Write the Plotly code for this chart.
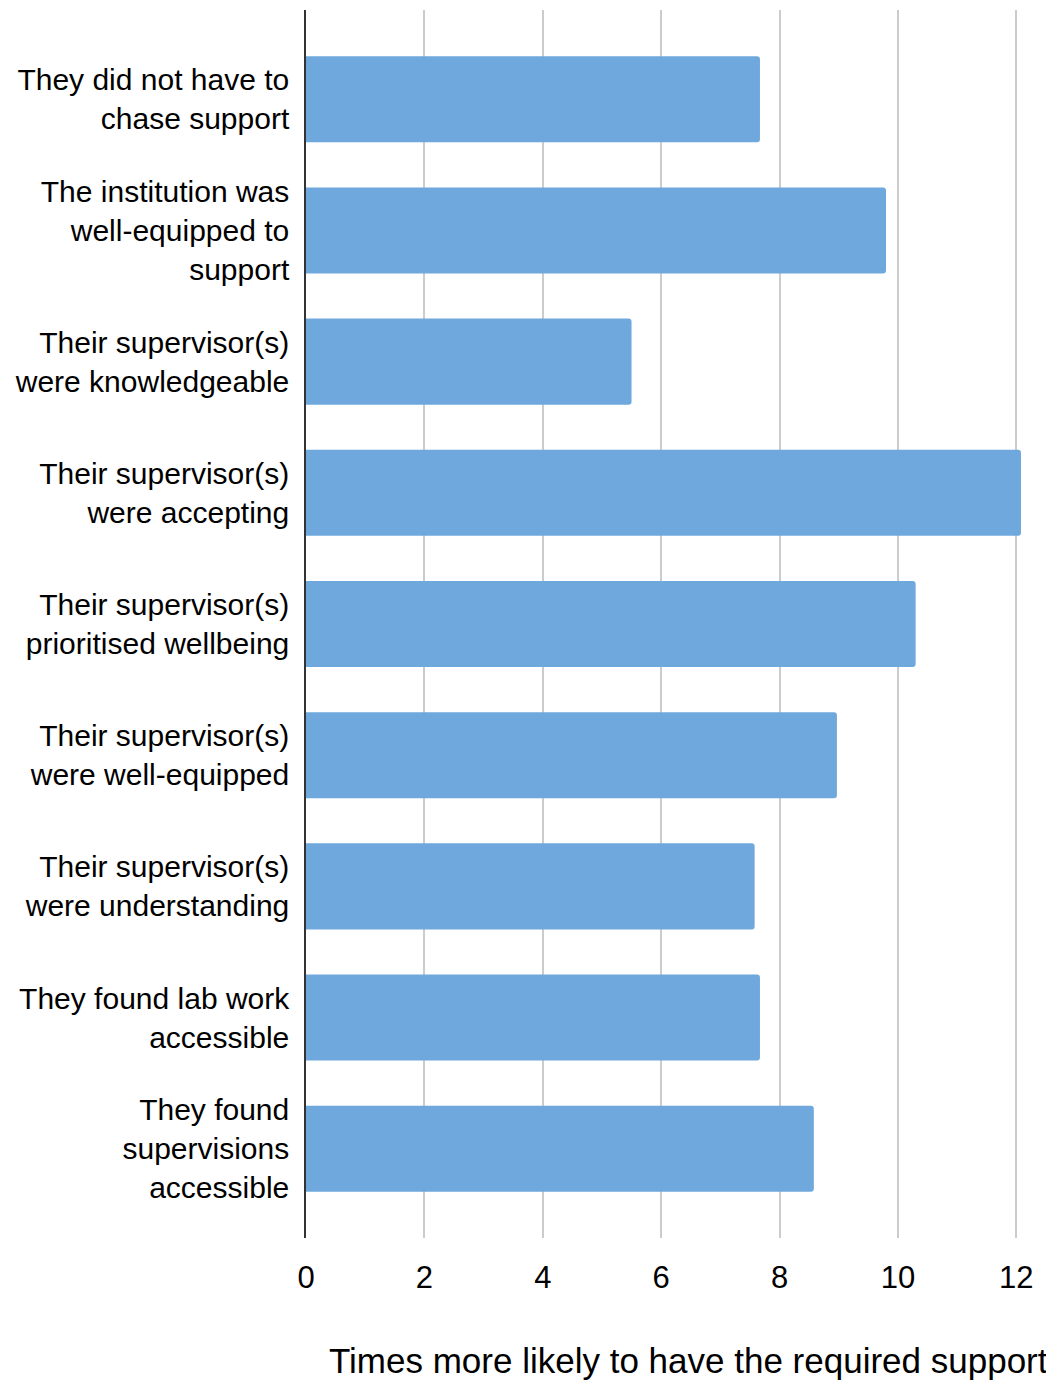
import plotly.graph_objects as go

categories = [
    "They did not have to<br>chase support",
    "The institution was<br>well-equipped to<br>support",
    "Their supervisor(s)<br>were knowledgeable",
    "Their supervisor(s)<br>were accepting",
    "Their supervisor(s)<br>prioritised wellbeing",
    "Their supervisor(s)<br>were well-equipped",
    "Their supervisor(s)<br>were understanding",
    "They found lab work<br>accessible",
    "They found<br>supervisions<br>accessible",
]
values = [7.67, 9.8, 5.5, 12.08, 10.3, 8.97, 7.58, 7.67, 8.58]
x_ticks = [0, 2, 4, 6, 8, 10, 12]
x_title = "Times more likely to have the required support"

FONT = "Liberation Sans, Arial, sans-serif"

fig = go.Figure(
    go.Bar(
        x=values,
        y=categories,
        orientation="h",
        marker=dict(color="#6fa8dc", line=dict(width=0), cornerradius=3),
        width=0.656,
        hoverinfo="x+y",
    )
)

fig.update_layout(
    width=1046,
    height=1372,
    margin=dict(l=298, r=20, t=2, b=142),
    plot_bgcolor="white",
    paper_bgcolor="white",
    showlegend=False,
    font=dict(family=FONT, color="black"),
)

fig.update_xaxes(
    range=[0, 12.3],
    tickvals=x_ticks,
    ticktext=[str(t) for t in x_ticks],
    tickfont=dict(size=31, family=FONT, color="black"),
    showgrid=True,
    gridcolor="#cccccc",
    gridwidth=2,
    zeroline=False,
    showline=False,
    ticks="",
    ticklabelstandoff=18,
    automargin=False,
)

fig.update_yaxes(
    type="category",
    categoryorder="array",
    categoryarray=categories,
    range=[8.68, -0.68],
    tickfont=dict(size=30, family=FONT, color="black"),
    showgrid=False,
    showline=True,
    linecolor="#333333",
    linewidth=1.5,
    ticks="",
    ticklabelstandoff=9,
    automargin=False,
)

fig.add_annotation(
    text=x_title,
    xref="paper",
    yref="paper",
    x=0.526,
    y=0,
    yshift=-144,
    xanchor="center",
    yanchor="bottom",
    showarrow=False,
    font=dict(size=35, family=FONT, color="black"),
)

fig.write_html("out.html")
